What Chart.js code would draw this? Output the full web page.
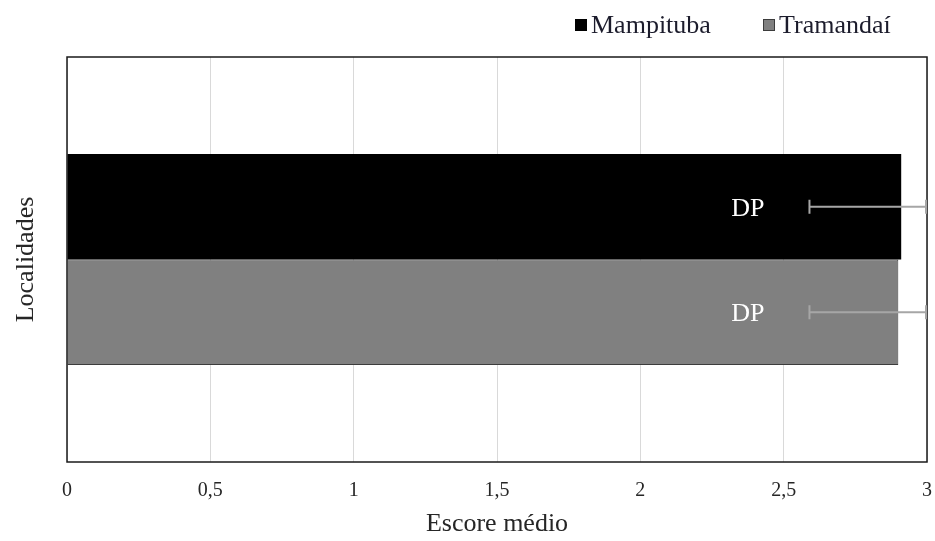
<!DOCTYPE html>
<html>
<head>
<meta charset="utf-8">
<script src="https://cdn.jsdelivr.net/npm/chart.js@4.4.1/dist/chart.umd.min.js"></script>
<style>
  html, body { margin: 0; padding: 0; background: #ffffff; }
  #wrap { width: 935px; height: 541px; }
</style>
</head>
<body>
<div id="wrap"><canvas id="c" width="935" height="541"></canvas></div>
<script>
// Mean score per locality, with standard deviation (DP)
const categories = ['Localidades'];
const seriesNames = ['Mampituba', 'Tramandaí'];
const meanMampituba = [2.91];
const meanTramandai = [2.90];
const sdMampituba = [0.32];
const sdTramandai = [0.31];
const xTickValues = [0, 0.5, 1, 1.5, 2, 2.5, 3];
const sdLabel = 'DP';

const SERIF = "'Liberation Serif', 'Times New Roman', serif";
const fills = ['#000000', '#808080'];
const edges = ['#000000', '#3c3c3c'];

// Frame around the plot area
const frame = {
  id: 'frame',
  afterDatasetsDraw(chart) {
    const { ctx, chartArea: a } = chart;
    ctx.save();
    ctx.strokeStyle = '#1a1a1a';
    ctx.lineWidth = 1.5;
    ctx.strokeRect(a.left, a.top, a.right - a.left, a.bottom - a.top);
    ctx.restore();
  }
};

// Standard deviation whiskers and their "DP" labels
const whiskers = {
  id: 'whiskers',
  afterDatasetsDraw(chart) {
    const { ctx, chartArea: a } = chart;
    const xs = chart.scales.x;
    const sds = [sdMampituba, sdTramandai];
    chart.data.datasets.forEach((ds, di) => {
      const meta = chart.getDatasetMeta(di);
      meta.data.forEach((bar, i) => {
        const v = ds.data[i];
        const sd = sds[di][i];
        const x0 = xs.getPixelForValue(v - sd);
        const x1 = Math.min(xs.getPixelForValue(v + sd), a.right - 1);
        const y = bar.y;
        ctx.save();
        ctx.strokeStyle = '#a6a6a6';
        ctx.lineWidth = 2;
        ctx.beginPath();
        ctx.moveTo(x0, y); ctx.lineTo(x1, y);
        ctx.moveTo(x0, y - 7); ctx.lineTo(x0, y + 7);
        ctx.moveTo(x1, y - 7); ctx.lineTo(x1, y + 7);
        ctx.stroke();
        ctx.fillStyle = '#ffffff';
        ctx.font = '26px ' + SERIF;
        ctx.textAlign = 'right';
        ctx.textBaseline = 'middle';
        ctx.fillText(sdLabel, x0 - 45, y + 2);
        ctx.restore();
      });
    });
  }
};

// Legend row above the plot
const legendRow = {
  id: 'legendRow',
  afterDraw(chart) {
    const { ctx } = chart;
    const starts = [575, 763];
    ctx.save();
    ctx.font = '26px ' + SERIF;
    ctx.textBaseline = 'middle';
    ctx.textAlign = 'left';
    chart.data.datasets.forEach((ds, i) => {
      const x = starts[i];
      const y = 25;
      ctx.fillStyle = ds.backgroundColor;
      ctx.fillRect(x, y - 6, 12, 12);
      ctx.strokeStyle = edges[i];
      ctx.lineWidth = 1;
      ctx.strokeRect(x + 0.5, y - 5.5, 11, 11);
      ctx.fillStyle = '#1c1c2c';
      ctx.fillText(ds.label, x + 16, y + 1);
    });
    ctx.restore();
  }
};

new Chart(document.getElementById('c'), {
  type: 'bar',
  data: {
    labels: categories,
    datasets: [
      { label: seriesNames[0], data: meanMampituba, backgroundColor: fills[0], borderColor: edges[0], borderWidth: 0 },
      { label: seriesNames[1], data: meanTramandai, backgroundColor: fills[1], borderColor: edges[1], borderWidth: 1 }
    ]
  },
  options: {
    indexAxis: 'y',
    responsive: false,
    animation: false,
    devicePixelRatio: 1,
    categoryPercentage: 0.521,
    barPercentage: 1,
    layout: { padding: { top: 57, left: 0, right: 8, bottom: 0 } },
    plugins: { legend: { display: false }, tooltip: { enabled: false } },
    scales: {
      x: {
        type: 'linear',
        min: 0,
        max: 3,
        afterFit(s) { s.height = 79; s.paddingLeft = 0; s.paddingRight = 0; },
        afterBuildTicks(s) { s.ticks = xTickValues.map(v => ({ value: v })); },
        ticks: {
          padding: 17,
          color: '#262626',
          font: { family: SERIF, size: 20 },
          callback: v => String(v).replace('.', ',')
        },
        grid: { color: '#d9d9d9', lineWidth: 1, drawTicks: false },
        border: { display: false },
        title: {
          display: true,
          text: 'Escore médio',
          color: '#262626',
          font: { family: SERIF, size: 26 },
          padding: { top: 0, bottom: 1 }
        }
      },
      y: {
        type: 'category',
        afterFit(s) { s.width = 67; },
        ticks: { display: false },
        grid: { display: false, drawTicks: false },
        border: { display: false },
        title: {
          display: true,
          text: 'Localidades',
          color: '#262626',
          font: { family: SERIF, size: 26 },
          padding: { top: 11, bottom: 0 }
        }
      }
    }
  },
  plugins: [frame, whiskers, legendRow]
});
</script>
</body>
</html>
